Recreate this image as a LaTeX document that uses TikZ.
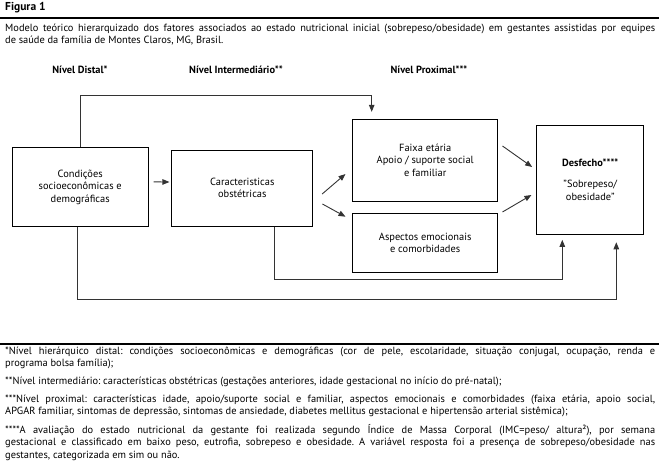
\documentclass[tikz,border=0pt]{standalone}
\usepackage{fontspec}
\setmainfont{PT Sans}
\frenchspacing
\usetikzlibrary{arrows.meta, positioning, calc}

\begin{document}
\begin{tikzpicture}[x=1pt, y=-1pt, font=\fontsize{10.4}{12.5}\selectfont,
    caixa/.style={draw, line width=1pt, align=center, inner sep=0pt},
    seta/.style={-{Triangle[length=7pt, width=5.5pt]}, line width=0.9pt, black!80},
    nivel/.style={font=\fontsize{10.4}{12.5}\selectfont\bfseries},
    nota/.style={anchor=north west, inner sep=0pt, text width=650pt, align=justify}]
    \useasboundingbox (0,0) rectangle (659,463);
    \node[anchor=west, inner sep=0pt, font=\fontsize{11.5}{13}\selectfont\bfseries] (titulo) at (5,8) {Figura 1};
    \draw[line width=2pt] (0,17.5) -- (659,17.5);
    \node[nota] (legenda) at (5,23.5) {Modelo teórico hierarquizado dos fatores associados ao estado nutricional inicial (sobrepeso/obesidade) em gestantes assistidas por equipes\linebreak de saúde da família de Montes Claros, MG, Brasil.};

    \node[nivel] (distal) at (80,70) {Nível Distal*};
    \node[nivel] (interm) at (236,70) {Nível Intermediário**};
    \node[nivel] (proxim) at (429,70) {Nível Proximal***};

    \node[caixa, minimum width=135.7pt, minimum height=78.3pt] (A) at (80.2,186.9) {Condições\\socioeconômicas e\\demográficas};
    \node[caixa, minimum width=140.7pt, minimum height=76pt] (B) at (242.3,188) {Caracteristicas\\obstétricas};
    \node[caixa, minimum width=145pt, minimum height=81.7pt] (F) at (425.2,160.2) {Faixa etária\\Apoio / suporte social\\e familiar};
    \node[caixa, minimum width=145pt, minimum height=59pt] (E) at (425.2,242.8) {Aspectos emocionais\\e comorbidades};
    \node[caixa, minimum width=107.3pt, minimum height=109.3pt] (D) at (590.3,179.7) {\textbf{Desfecho****}\\[9pt]"Sobrepeso/\\obesidade"};

    \draw[seta, shorten >=7pt] (A.north) -- ++(0,-52.2) -| ($(F.north)+(-53.5,0)$);
    \draw[seta] ($(A.east)+(5,-5)$) -- ($(B.west)+(-2,-6)$);
    \draw[seta] ($(B.east)+(9,6)$) -- ($(F.west)+(-6.7,13.8)$);
    \draw[seta] ($(B.east)+(9.3,16)$) -- ($(E.west)+(-6.7,-26.1)$);
    \draw[seta] ($(F.east)+(4.3,-14.2)$) -- ($(D.west)+(-4,-12.7)$);
    \draw[seta] ($(E.east)+(4.3,-30.8)$) -- ($(D.west)+(-4.7,15.3)$);
    \draw[seta, shorten >=5pt] ($(B.south)+(31.7,0)$) -- ++(0,53) -| ($(D.south)+(-28,0)$);
    \draw[seta, shorten >=7.4pt] ($(A.south)+(-2.7,0)$) -- ++(0,73) -| ($(D.south)+(26,0)$);

    \draw[line width=2pt] (0,344) -- (659,344);
    \node[nota] (nota1) at (5,346.5) {*Nível hierárquico distal: condições socioeconômicas e demográficas (cor de pele, escolaridade, situação conjugal, ocupação, renda e\linebreak programa bolsa família);};
    \node[nota] (nota2) at (5,377) {**Nível intermediário: características obstétricas (gestações anteriores, idade gestacional no início do pré-natal);};
    \node[nota] (nota3) at (5,394.5) {***Nível proximal: características idade, apoio/suporte social e familiar, aspectos emocionais e comorbidades (faixa etária, apoio social,\linebreak APGAR familiar, sintomas de depressão, sintomas de ansiedade, diabetes mellitus gestacional e hipertensão arterial sistêmica);};
    \node[nota] (nota4) at (5,424) {****A avaliação do estado nutricional da gestante foi realizada segundo Índice de Massa Corporal (IMC=peso/ altura²), por semana\linebreak gestacional e classificado em baixo peso, eutrofia, sobrepeso e obesidade. A variável resposta foi a presença de sobrepeso/obesidade nas\linebreak gestantes, categorizada em sim ou não.};
\end{tikzpicture}
\end{document}
